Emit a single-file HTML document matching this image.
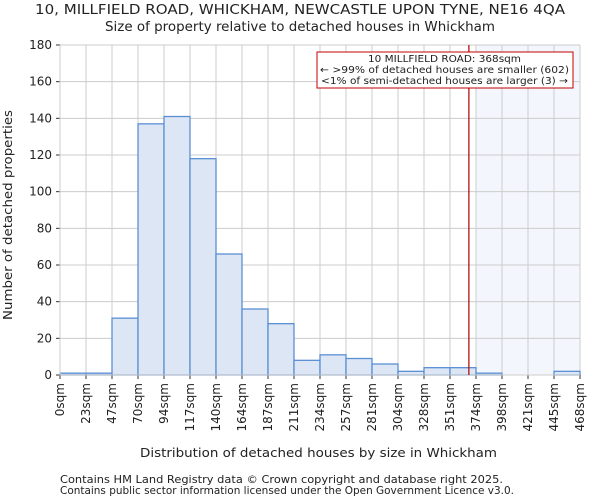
<!DOCTYPE html>
<html><head><meta charset="utf-8"><style>
body{margin:0;background:#fff;font-family:"DejaVu Sans","Liberation Sans",sans-serif;}
svg text{font-family:"DejaVu Sans","Liberation Sans",sans-serif;fill:#222;}
</style></head><body>
<svg id="chart" width="600" height="500" xmlns="http://www.w3.org/2000/svg">
<text x="35" y="14" font-size="13" textLength="530" lengthAdjust="spacingAndGlyphs">10, MILLFIELD ROAD, WHICKHAM, NEWCASTLE UPON TYNE, NE16 4QA</text>
<text x="105" y="31" font-size="13" textLength="390" lengthAdjust="spacingAndGlyphs">Size of property relative to detached houses in Whickham</text>
<rect id="shade" y="45" height="330" fill="#f3f6fc"/>
<g id="grid"></g>
<g id="bars"></g>
<g id="axes"></g>
<line id="marker" y1="45" y2="375" stroke="#b00000" stroke-width="1.2"/>
<rect x="317" y="52" width="256" height="36" fill="#fff" stroke="#c00000" stroke-width="1"/>
<text x="368" y="62" font-size="10" textLength="153" lengthAdjust="spacingAndGlyphs">10 MILLFIELD ROAD: 368sqm</text>
<text x="320" y="73" font-size="10" textLength="249" lengthAdjust="spacingAndGlyphs">← &gt;99% of detached houses are smaller (602)</text>
<text x="321" y="84" font-size="10" textLength="247" lengthAdjust="spacingAndGlyphs">&lt;1% of semi-detached houses are larger (3) →</text>
<text transform="translate(12,320) rotate(-90)" font-size="12.5" textLength="210" lengthAdjust="spacingAndGlyphs">Number of detached properties</text>
<text x="140" y="457" font-size="12.5" textLength="357" lengthAdjust="spacingAndGlyphs">Distribution of detached houses by size in Whickham</text>
<text x="60" y="483" font-size="10.5" fill="#555" textLength="443" lengthAdjust="spacingAndGlyphs">Contains HM Land Registry data © Crown copyright and database right 2025.</text>
<text x="60" y="494" font-size="10.5" fill="#555" textLength="454" lengthAdjust="spacingAndGlyphs">Contains public sector information licensed under the Open Government Licence v3.0.</text>
</svg>
<script>
const categories=["0sqm","23sqm","47sqm","70sqm","94sqm","117sqm","140sqm","164sqm","187sqm","211sqm","234sqm","257sqm","281sqm","304sqm","328sqm","351sqm","374sqm","398sqm","421sqm","445sqm","468sqm"];
const counts=[1,1,31,137,141,118,66,36,28,8,11,9,6,2,4,4,1,0,0,2];
const yTicks=[0,20,40,60,80,100,120,140,160,180];
const binWidthSqm=23.4;
const markerSqm=368;
const highlightFromBin=16;
const NS="http://www.w3.org/2000/svg";
const L=60,R=580,T=45,B=375,yMax=180;
const bw=(R-L)/counts.length;
const x=i=>L+i*bw;
const y=v=>B-v/yMax*(B-T);
const grid=document.getElementById('grid'),bars=document.getElementById('bars'),axes=document.getElementById('axes');
function mk(tag,a,p){const e=document.createElementNS(NS,tag);for(const k in a)e.setAttribute(k,a[k]);p.appendChild(e);return e;}
const sh=document.getElementById('shade');sh.setAttribute('x',x(highlightFromBin));sh.setAttribute('width',R-x(highlightFromBin));
yTicks.forEach(t=>{
 const g=mk('line',{x1:L,x2:R,y1:y(t),y2:y(t),stroke:'#cccccc','stroke-width':1},grid);
 
 
 const tk=mk('line',{x1:L-4,x2:L,y1:y(t),y2:y(t),stroke:'#333'},axes);
 
 
 const tx=mk('text',{x:L-8,y:y(t)+4,'text-anchor':'end','font-size':12},axes);tx.textContent=t;
 
 
});
categories.forEach((c,i)=>{
 const g=mk('line',{x1:x(i),x2:x(i),y1:T,y2:B,stroke:'#cccccc','stroke-width':1},grid);
 
 
 const tk=mk('line',{x1:x(i),x2:x(i),y1:B,y2:B+4,stroke:'#333'},axes);
 
 
 const tx=mk('text',{transform:`translate(${x(i)+4},${B+8}) rotate(-90)`,'text-anchor':'end','font-size':12},axes);tx.textContent=c;
 
 
});
counts.forEach((v,i)=>{
 const r=mk('rect',{x:x(i),y:y(v),width:bw,height:B-y(v),fill:'#dce6f4',stroke:'#5b8fd4','stroke-width':1.3},bars);
 
 
});
const ax=mk('path',{d:`M${L},${T}V${B}H${R}`,fill:'none',stroke:'#cccccc'},axes);


const mx=L+markerSqm/binWidthSqm*bw;
const m=document.getElementById('marker');m.setAttribute('x1',mx);m.setAttribute('x2',mx);
</script>
</body></html>
